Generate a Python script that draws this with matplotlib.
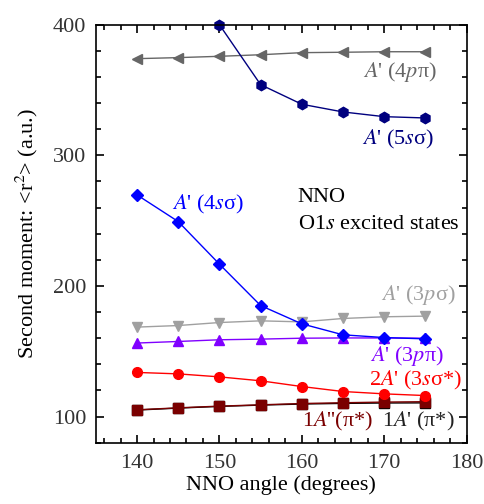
import numpy as np
import matplotlib
matplotlib.use("Agg")
import matplotlib.pyplot as plt
from matplotlib.ticker import MultipleLocator

plt.rcParams['font.family'] = ['Liberation Serif', 'DejaVu Serif']
plt.rcParams['mathtext.fontset'] = 'stix'

angle = [140, 145, 150, 155, 160, 165, 170, 175]

s5_sigma = [None, None, 400.0, 354.1, 339.1, 333.2, 329.6, 328.6]
p4_pi = [374.0, 374.8, 375.8, 377.0, 378.6, 378.9, 379.3, 379.3]
s4_sigma = [269.7, 249.3, 216.7, 185.0, 171.0, 162.6, 160.5, 159.5]
p3_sigma = [168.5, 169.7, 172.0, 173.3, 172.5, 175.1, 176.4, 176.9]
p3_pi = [156.3, 157.5, 158.8, 159.3, 160.0, 160.2, 160.2, 160.0]
s3_sigma_star = [133.8, 132.7, 130.4, 127.4, 123.0, 119.2, 117.4, 116.1]
a2_pi_star = [105.2, 106.7, 108.0, 109.0, 110.0, 110.6, 111.1, 111.4]
a1_pi_star = [105.0, 106.5, 107.8, 108.8, 109.6, 110.1, 110.4, 110.5]

fig = plt.figure(figsize=(4.84, 5.04), dpi=100)
ax = fig.add_axes([0.198, 0.1216, 0.766, 0.8294])

def line(x, y, m, c, ms=7):
    x = [a for a, b in zip(x, y) if b is not None]
    y = [b for b in y if b is not None]
    ax.plot(x, y, marker=m, color=c, ms=ms, lw=1, clip_on=False)

line(angle, a1_pi_star, 's', 'black', 6.5)
line(angle, a2_pi_star, 's', '#7a0000', 6.5)
line(angle, s3_sigma_star, 'o', '#ff0000', 7)
line(angle, p3_pi, '^', '#8000ff', 7)
line(angle, p3_sigma, 'v', '#a0a0a0', 7)
line(angle, s4_sigma, 'D', '#0000ff', 6)
line(angle, p4_pi, '<', '#666666', 7)
line(angle, s5_sigma, 'h', '#00007f', 7.5)

ax.set_xlim(135, 180)
ax.set_ylim(80, 400)
ax.xaxis.set_major_locator(MultipleLocator(10))
ax.xaxis.set_minor_locator(MultipleLocator(2))
ax.yaxis.set_major_locator(MultipleLocator(100))
ax.yaxis.set_minor_locator(MultipleLocator(20))
ax.tick_params(which='both', direction='in', top=True, right=True, labelsize=16,
               width=1.2, labelcolor='#333333')
ax.tick_params(axis='x', which='major', pad=8)
ax.tick_params(axis='y', which='major', pad=7)
ax.tick_params(which='major', length=6)
ax.tick_params(which='minor', length=3.5)
for s in ax.spines.values():
    s.set_linewidth(1.2)

ax.set_xlabel('NNO angle (degrees)', fontsize=16, labelpad=2)
ax.set_ylabel('Second moment: <r$^{2}$> (a.u.)', fontsize=16, labelpad=9)

fs = 16
ax.text(176.4, 364, "$A$' (4$p$π)", color='#666666', ha='right', va='center', fontsize=fs)
ax.text(176.1, 311.8, "$A$' (5$s$σ)", color='#00007f', ha='right', va='center', fontsize=fs)
ax.text(144.2, 262, "$A$' (4$s$σ)", color='#0000ff', ha='left', va='center', fontsize=fs)
ax.text(159.5, 268, "NNO", color='black', ha='left', va='center', fontsize=fs)
ax.text(159.5, 246.8, "O1$s$ excited states", color='black', ha='left', va='center', fontsize=fs)
ax.text(178.7, 193.2, "$A$' (3$p$σ)", color='#a0a0a0', ha='right', va='center', fontsize=fs)
ax.text(177.2, 146.5, "$A$' (3$p$π)", color='#8000ff', ha='right', va='center', fontsize=fs)
ax.text(179.5, 127.6, "2$A$' (3$s$σ*)", color='#ff0000', ha='right', va='center', fontsize=fs)
ax.text(168.7, 96, "1$A$''(π*)", color='#7a0000', ha='right', va='center', fontsize=fs)
ax.text(178.6, 96, "1$A$' (π*)", color='#222222', ha='right', va='center', fontsize=fs)

fig.savefig('out.png', dpi=100)
